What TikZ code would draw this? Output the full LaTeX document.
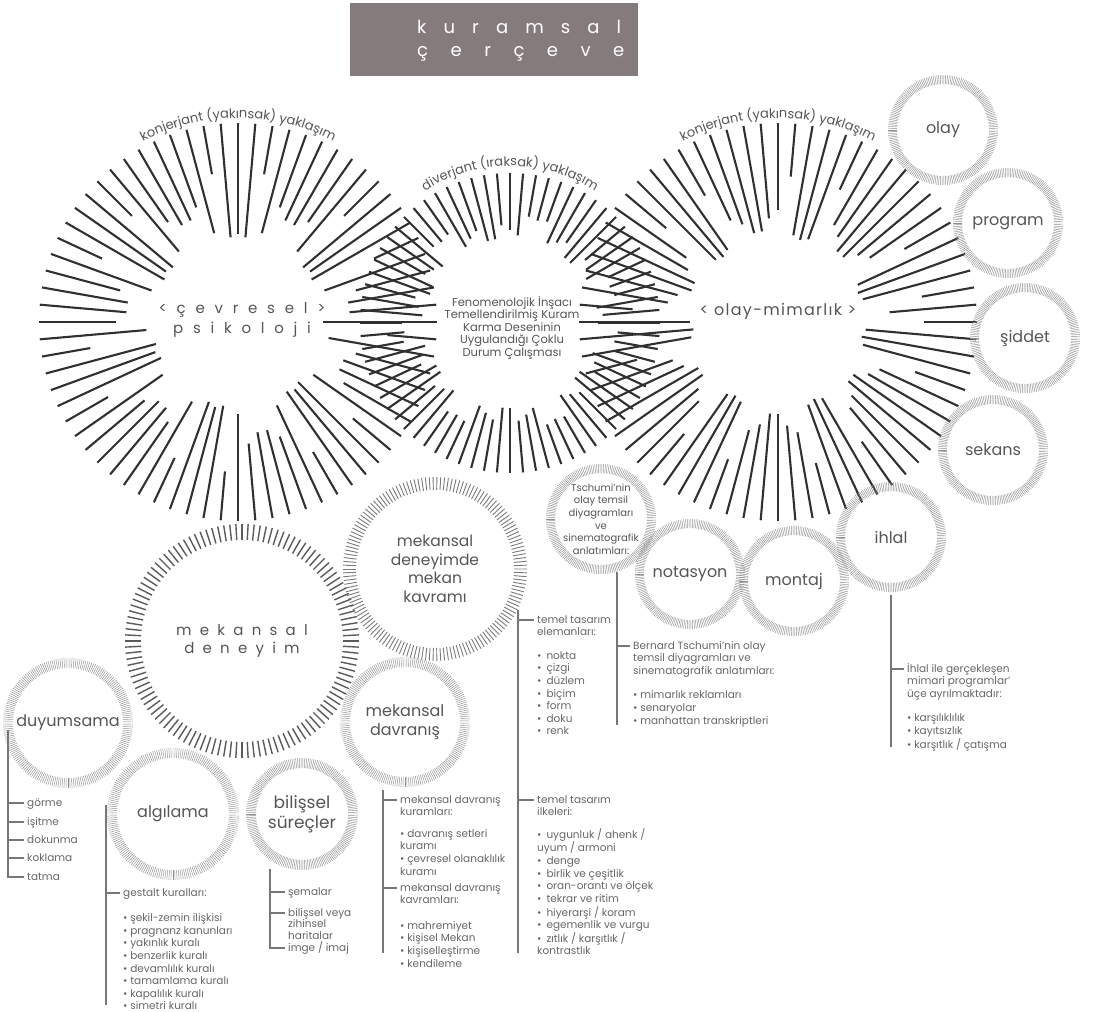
\documentclass[tikz,border=0pt]{standalone}
\usepackage{fontspec}
\setmainfont{Poppins}
\newfontfamily\spA[LetterSpace=65]{Poppins}
\newfontfamily\spD[LetterSpace=55]{Poppins}
\newfontfamily\spB[LetterSpace=8]{Poppins}
\newfontfamily\spT[LetterSpace=95]{Poppins}
\newfontfamily\spU[LetterSpace=125]{Poppins}
\usetikzlibrary{decorations.text,calc}
\definecolor{rayc}{HTML}{303030}
\definecolor{ringc}{HTML}{8E8E8E}
\definecolor{ringd}{HTML}{5A5A5A}
\definecolor{txt}{HTML}{555555}
\definecolor{lstc}{HTML}{666666}
\definecolor{brc}{HTML}{777777}
\definecolor{titlebg}{HTML}{857B7D}

% ring of short radial ticks: centre, outer r, inner r, count, style
\newcommand\tickring[5]{%
  \foreach \j in {1,...,#4}{%
    \draw[#5] ([shift={(360/#4*\j:#3)}]#1) -- ([shift={(360/#4*\j:#2)}]#1);}}
\newcommand\lines[1]{\begin{tabular}[t]{@{}l@{}}#1\end{tabular}}

\begin{document}
\begin{tikzpicture}[x=1pt,y=-1pt,
  ray/.style={line width=2.1pt, color=rayc},
  thin tick/.style={line width=0.45pt, color=ringc},
  mid tick/.style={line width=0.9pt, color=ringd!80!white},
  bold tick/.style={line width=1.4pt, color=ringd},
  branch/.style={line width=1.2pt, color=brc},
  lbl/.style={text=txt, align=center, inner sep=0pt, font=\fontsize{16}{19}\selectfont},
  lst/.style={text=lstc, anchor=base west, inner sep=0pt, font=\fontsize{10.5}{12.6}\selectfont},
  item/.style={lst},
]
\useasboundingbox (0,0) rectangle (1109,1012);

% ---------- title ----------
\node[fill=titlebg, minimum width=288pt, minimum height=73pt, inner sep=0pt] (title) at (494,39.5) {};
\node[anchor=base west, inner sep=0pt, text=white, font=\fontsize{18}{18}\spT] (t1) at (417,33) {kuramsal};
\node[anchor=base west, inner sep=0pt, text=white, font=\fontsize{18}{18}\spU] (t2) at (417,56) {çerçeve};

% ---------- three sunbursts ----------
\coordinate (L) at (238,322);
\coordinate (M) at (510,323);
\coordinate (R) at (778,322);

\foreach \i in {0,...,71}{%
  \pgfmathtruncatemacro\k{mod(mod(\i*\i,11)*7+\i*3,11)}%
  \pgfmathsetmacro\ri{{85,92,140,112,88,146,122,96,134,104,150}[\k]}%
  \draw[ray] ([shift={(5*\i:\ri)}]L) -- ([shift={(5*\i:199)}]L);
}
\foreach \i in {0,...,71}{%
  \pgfmathtruncatemacro\k{mod(mod(\i*\i,11)*5+\i*2+3,11)}%
  \pgfmathsetmacro\ri{{75,79,102,88,76,106,93,81,98,85,108}[\k]}%
  \draw[ray] ([shift={(5*\i:\ri)}]M) -- ([shift={(5*\i:150)}]M);
}
\foreach \i in {0,...,71}{%
  \pgfmathtruncatemacro\k{mod(mod(\i*\i,11)*4+\i*6+5,11)}%
  \pgfmathsetmacro\ri{{85,92,140,112,88,146,122,96,134,104,150}[\k]}%
  \draw[ray] ([shift={(5*\i:\ri)}]R) -- ([shift={(5*\i:199)}]R);
}

% curved headings
\path[decorate, decoration={text along path, text align=center,
  text={|\fontsize{13}{13}\selectfont\color{txt}|konjerjant (yakınsak) yaklaşım}}]
  ([shift={(230:204)}]L) arc[start angle=230, end angle=310, radius=204];
\path[decorate, decoration={text along path, text align=center,
  text={|\fontsize{13}{13}\selectfont\color{txt}|diverjant (ıraksak) yaklaşım}}]
  ([shift={(215:157)}]M) arc[start angle=215, end angle=325, radius=157];
\path[decorate, decoration={text along path, text align=center,
  text={|\fontsize{13}{13}\selectfont\color{txt}|konjerjant (yakınsak) yaklaşım}}]
  ([shift={(230:204)}]R) arc[start angle=230, end angle=310, radius=204];

% centre labels
\node[lbl, font=\fontsize{15}{20}\spA] (cevre) at (242,320) {<çevresel>\\psikoloji};
\node[lbl, font=\fontsize{11.5}{12.5}\selectfont] (case) at (512,328)
  {Fenomenolojik İnşacı\\Temellendirilmiş Kuram\\Karma Deseninin\\Uygulandığı Çoklu\\Durum Çalışması};
\node[lbl, font=\fontsize{16}{19}\spB] (olaymim) at (778,311) {< olay-mimarlık >};

% ---------- right-hand rings ----------
\node[lbl] (olay) at (943,130) {olay};
\node[lbl] (program) at (1008,223) {program};
\node[lbl] (siddet) at (1025,338) {şiddet};
\node[lbl] (sekans) at (993,450) {sekans};
\node[lbl] (ihlal) at (891,537) {ihlal};
\node[lbl] (montaj) at (794,581) {montaj};
\node[lbl] (notasyon) at (690,574) {notasyon};
\node[lbl, font=\fontsize{10}{12.7}\selectfont] (tschumi) at (601,519)
  {Tschumi’nin\\olay temsil\\diyagramları\\ve\\sinematografik\\anlatımları:};
\foreach \n in {olay,program,siddet,sekans,ihlal,montaj,notasyon,tschumi}{%
  \tickring{\n.center}{55}{46}{190}{thin tick}}

% ---------- lower-left rings ----------
\node[lbl, font=\fontsize{15.5}{18.5}\selectfont] (mdmk) at (435,569)
  {mekansal\\deneyimde\\mekan\\kavramı};
\tickring{mdmk.center}{92}{79}{150}{mid tick}
\node[lbl, font=\fontsize{15}{18}\spD] (mdeney) at (242,641) {mekansal\\deneyim};
\tickring{mdeney.center}{117}{101}{120}{bold tick}
\node[lbl] (mdavr) at (405,722) {mekansal\\davranış};
\tickring{mdavr.center}{65}{55}{200}{thin tick}
\node[lbl] (duyum) at (68,723) {duyumsama};
\tickring{duyum.center}{65}{55}{200}{thin tick}
\node[lbl] (algi) at (173,814) {algılama};
\tickring{algi.center}{66}{56}{200}{thin tick}
\node[lbl, font=\fontsize{17}{20}\selectfont] (bilis) at (302,814) {bilişsel\\süreçler};
\tickring{bilis.center}{56}{46}{190}{thin tick}

% ---------- branch lists ----------
% duyumsama
\coordinate (dyTop) at (8,730);
\node[item] (gorme) at (27,806) {görme};
\node[item] (isitme) at (27,825) {işitme};
\node[item] (dokunma) at (27,843) {dokunma};
\node[item] (koklama) at (27,861) {koklama};
\node[item] (tatma) at (27,880) {tatma};
\foreach \n in {gorme,isitme,dokunma,koklama,tatma}{%
  \draw[branch] (dyTop) |- ([xshift=-3pt,yshift=3pt]\n.base west);}

% algılama
\coordinate (alTop) at (106,805);
\coordinate (alBot) at (106,1005);
\node[lst] (gestalt) at (123,896) {\lines{gestalt kuralları:\\[13pt]
  • şekil-zemin ilişkisi\\• pragnanz kanunları\\• yakınlık kuralı\\• benzerlik kuralı\\
  • devamlılık kuralı\\• tamamlama kuralı\\• kapalılık kuralı\\• simetri kuralı}};
\draw[branch] (alTop) -- (alBot);
\draw[branch] (alTop) |- ([xshift=-3pt,yshift=3pt]gestalt.base west);

% bilişsel süreçler
\coordinate (biTop) at (270,869);
\node[item] (sema) at (288,895) {şemalar};
\node[lst, font=\fontsize{10.5}{11.5}\selectfont] (harita) at (288,916) {\lines{bilişsel veya\\zihinsel\\haritalar}};
\node[item] (imge) at (288,951) {imge / imaj};
\foreach \n in {sema,harita,imge}{%
  \draw[branch] (biTop) |- ([xshift=-3pt,yshift=3pt]\n.base west);}

% mekansal davranış
\coordinate (mdTop) at (383,790);
\coordinate (mdBot) at (383,953);
\node[lst] (kuram) at (400,803) {\lines{mekansal davranış\\kuramları:\\[9pt]
  • davranış setleri\\kuramı\\• çevresel olanaklılık\\kuramı}};
\node[lst] (kavram) at (400,891) {\lines{mekansal davranış\\kavramları:\\[13pt]
  • mahremiyet\\• kişisel Mekan\\• kişiselleştirme\\• kendileme}};
\draw[branch] (mdTop) -- (mdBot);
\foreach \n in {kuram,kavram}{%
  \draw[branch] (mdTop) |- ([xshift=-3pt,yshift=3pt]\n.base west);}

% mekansal deneyimde mekan kavramı
\coordinate (mkTop) at (518,610);
\coordinate (mkBot) at (518,953);
\node[lst] (eleman) at (537,623) {\lines{temel tasarım\\elemanları:\\[11pt]
  •\hspace{5pt}nokta\\•\hspace{5pt}çizgi\\•\hspace{5pt}düzlem\\•\hspace{5pt}biçim\\
  •\hspace{5pt}form\\•\hspace{5pt}doku\\•\hspace{5pt}renk}};
\node[lst] (ilke) at (537,803) {\lines{temel tasarım\\ilkeleri:\\[9pt]
  •\hspace{5pt}uygunluk / ahenk /\\uyum / armoni\\•\hspace{5pt}denge\\
  •\hspace{5pt}birlik ve çeşitlik\\•\hspace{5pt}oran-orantı ve ölçek\\
  •\hspace{5pt}tekrar ve ritim\\•\hspace{5pt}hiyerarşi / koram\\
  •\hspace{5pt}egemenlik ve vurgu\\•\hspace{5pt}zıtlık / karşıtlık /\\kontrastlık}};
\draw[branch] (mkTop) -- (mkBot);
\foreach \n in {eleman,ilke}{%
  \draw[branch] (mkTop) |- ([xshift=-3pt,yshift=3pt]\n.base west);}

% Tschumi
\coordinate (tsTop) at (617,572);
\coordinate (tsBot) at (617,725);
\node[lst] (bernard) at (633,649) {\lines{Bernard Tschumi’nin olay\\temsil diyagramları ve\\
  sinematografik anlatımları:\\[12pt]• mimarlık reklamları\\• senaryolar\\• manhattan transkriptleri}};
\draw[branch] (tsTop) -- (tsBot);
\draw[branch] (tsTop) |- ([xshift=-3pt,yshift=3pt]bernard.base west);

% ihlal
\coordinate (ihTop) at (891,595);
\coordinate (ihBot) at (891,747);
\node[lst] (ihprog) at (907,672) {\lines{İhlal ile gerçekleşen\\mimari programlar’\\
  üçe ayrılmaktadır:\\[12pt]• karşılıklılık\\• kayıtsızlık\\• karşıtlık / çatışma}};
\draw[branch] (ihTop) -- (ihBot);
\draw[branch] (ihTop) |- ([xshift=-3pt,yshift=3pt]ihprog.base west);
\end{tikzpicture}
\end{document}
